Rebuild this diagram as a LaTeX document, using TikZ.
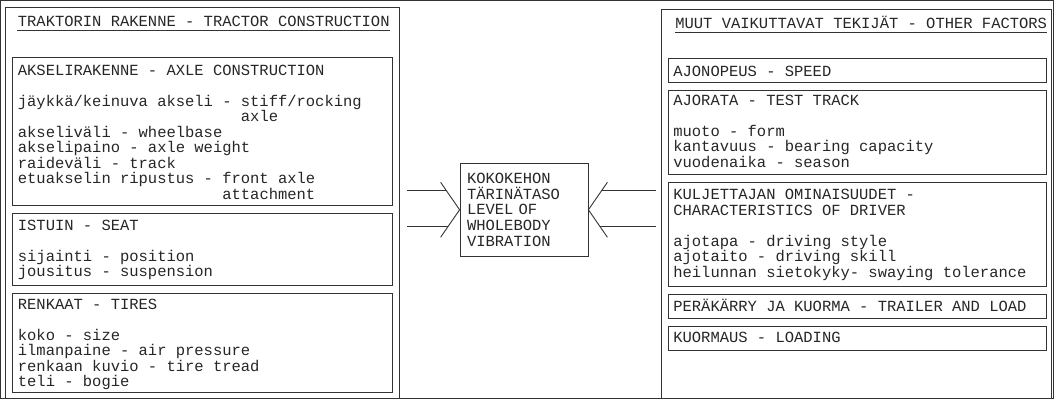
\documentclass[tikz,border=0pt]{standalone}
\usepackage{fontspec}
\newfontfamily\monofnt{Liberation Mono}
\newcommand{\fl}{\rule{0pt}{14pt}}
\begin{document}
\begin{tikzpicture}[x=1pt,y=-1pt,
  every path/.style={line width=0.9pt, draw=black!80},
  txt/.style={inner sep=0pt, anchor=north west, align=left,
    font=\monofnt\fontsize{15.5pt}{15.5pt}\selectfont, text=black!85},
  ctxt/.style={draw=black!80, line width=0.9pt, inner sep=0pt, minimum width=128pt, minimum height=93pt,
    text width=114pt, align=left, font=\monofnt\fontsize{15.5pt}{15.75pt}\selectfont, text=black!85}]
\useasboundingbox (0,0) rectangle (1054,398);
% outer frames
\draw (5,398) -- (5,7) -- (399,7) -- (399,398);
\draw (662,398) -- (662,9) -- (1052,9) -- (1052,398);
% titles
\node[txt] (tl) at (17,12) {\fl TRAKTORIN RAKENNE - TRACTOR CONSTRUCTION};
\draw (17,30) -- (390,30);
\node[txt] (tr) at (675,14) {\fl MUUT VAIKUTTAVAT TEKIJÄT - OTHER FACTORS};
\draw (675,32) -- (1047,32);
% left inner boxes
\draw (12,57) rectangle (392,205);
\node[txt] (axle) at (17,60.5) {\fl AKSELIRAKENNE - AXLE CONSTRUCTION\\[15.5pt]
jäykkä/keinuva akseli - stiff/rocking\\
\phantom{jäykkä/keinuva akseli - }axle\\
akseliväli - wheelbase\\
akselipaino - axle weight\\
raideväli - track\\
etuakselin ripustus - front axle\\
\phantom{etuakselin ripustus - }attachment};
\draw (12,213) rectangle (392,285);
\node[txt] (seat) at (17,215.5) {\fl ISTUIN - SEAT\\[15.5pt]
sijainti - position\\
jousitus - suspension};
\draw (12,293) rectangle (392,392);
\node[txt] (tire) at (17,294.5) {\fl RENKAAT - TIRES\\[15.5pt]
koko - size\\
ilmanpaine - air pressure\\
renkaan kuvio - tire tread\\
teli - bogie};
% right inner boxes
\draw (669,58) rectangle (1047,82);
\node[txt] (speed) at (673,62) {\fl AJONOPEUS - SPEED};
\draw (669,90) rectangle (1047,174);
\node[txt] (track) at (673,90.5) {\fl AJORATA - TEST TRACK\\[15.5pt]
muoto - form\\
kantavuus - bearing capacity\\
vuodenaika - season};
\draw (669,182) rectangle (1047,286);
\node[txt] (driver) at (673,185) {\fl KULJETTAJAN OMINAISUUDET -\\
CHARACTERISTICS OF DRIVER\\[15.5pt]
ajotapa - driving style\\
ajotaito - driving skill\\
heilunnan sietokyky- swaying tolerance};
\draw (669,294) rectangle (1047,318);
\node[txt] (trailer) at (673,296.5) {\fl PERÄKÄRRY JA KUORMA - TRAILER AND LOAD};
\draw (669,326) rectangle (1047,350);
\node[txt] (load) at (673,327.5) {\fl KUORMAUS - LOADING};
% center
\node[ctxt] (c) at (524,209.5) {KOKOKEHON\\TÄRINÄTASO\\LEVEL OF\\WHOLEBODY\\VIBRATION};
% left arrow
\coordinate (l1) at (407,190);
\coordinate (l2) at (407,226);
\draw (c.west) ++(-19,-27.5) -- (c.west) -- ++(-19,27.5);
\draw (l1) -- (446.5,190);
\draw (l2) -- (447.5,226);
% right arrow
\coordinate (r1) at (656,190);
\coordinate (r2) at (656,226);
\draw (c.east) ++(19,-27.5) -- (c.east) -- ++(19,27.5);
\draw (r1) -- (601.5,190);
\draw (r2) -- (600.5,226);
\end{tikzpicture}
\end{document}
